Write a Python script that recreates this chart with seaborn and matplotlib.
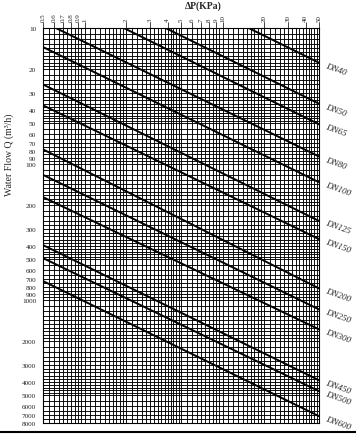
import numpy as np
import pandas as pd
import matplotlib
matplotlib.use("Agg")
import matplotlib.pyplot as plt
import seaborn as sns
from matplotlib.lines import Line2D
from matplotlib.ticker import NullFormatter

# valve sizes, flow read where each line meets dP = 0.5 and dP = 50 kPa
sizes = ["DN40", "DN50", "DN65", "DN80", "DN100", "DN125", "DN150",
         "DN200", "DN250", "DN300", "DN450", "DN500", "DN600"]
dp_ends = [0.5, 50]
q_at_low = [1.8, 3.6, 5.1, 9.0, 13.8, 26, 37, 78, 120, 175, 394, 491, 724]
q_at_high = [18, 36, 51, 88, 136, 262, 356, 820, 1170, 1640, 3880, 4670, 7130]

x_ticks = [0.5, 0.6, 0.7, 0.8, 0.9, 1, 2, 3, 4, 5, 6, 7, 8, 9, 10, 20, 30, 40, 50]
x_labels = ["0.5", "0.6", "0.7", "0.8", "0.9", "1", "2", "3", "4", "5", "6",
            "7", "8", "9", "10", "20", "30", "40", "50"]
y_ticks = [10, 20, 30, 40, 50, 60, 70, 80, 90, 100, 200, 300, 400, 500, 600,
           700, 800, 900, 1000, 2000, 3000, 4000, 5000, 6000, 7000, 8000]

rows = []
for name, lo, hi in zip(sizes, q_at_low, q_at_high):
    rows.append({"dn": name, "dp": dp_ends[0], "q": lo})
    rows.append({"dn": name, "dp": dp_ends[1], "q": hi})
df = pd.DataFrame(rows)

sns.set_style("white")
plt.rcParams["font.family"] = ["Liberation Serif", "DejaVu Serif"]

fig = plt.figure(figsize=(3.56, 4.35), dpi=100)
ax = fig.add_axes([43 / 356, 1 - 424 / 435, 276 / 356, 395 / 435])

# fine nomogram grid
x_minor = np.concatenate([np.arange(0.5, 1, 0.05), np.arange(1, 2, 0.1),
                          np.arange(2, 5, 0.2), np.arange(5, 10, 0.5),
                          np.arange(10, 20, 1), np.arange(20, 50.1, 2)])
y_minor = np.concatenate([np.arange(10, 20, 1), np.arange(20, 50, 2),
                          np.arange(50, 100, 5), np.arange(100, 200, 10),
                          np.arange(200, 500, 20), np.arange(500, 1000, 50),
                          np.arange(1000, 2000, 100), np.arange(2000, 5000, 200),
                          np.arange(5000, 8001, 500)])

sns.lineplot(data=df, x="dp", y="q", units="dn", estimator=None,
             color="black", linewidth=1.4, ax=ax, zorder=5)

ax.set_xscale("log")
ax.set_yscale("log")
ax.set_xlim(0.5, 50)
ax.set_ylim(8000, 10)

ax.set_xticks(x_minor, minor=True)
ax.set_yticks(y_minor, minor=True)
ax.xaxis.set_minor_formatter(NullFormatter())
ax.yaxis.set_minor_formatter(NullFormatter())
ax.set_xticks(x_ticks)
ax.set_xticklabels(x_labels, rotation=90, fontsize=5)
ax.set_yticks(y_ticks)
ax.set_yticklabels([str(v) for v in y_ticks], fontsize=5.2)
ax.xaxis.tick_top()
ax.tick_params(axis="x", which="major", length=4, width=0.6, pad=1, top=True, bottom=False)
ax.tick_params(axis="y", which="major", length=4, width=0.6, pad=1)
ax.tick_params(which="minor", length=0)
ax.grid(True, which="both", color="black", linewidth=0.65)
ax.set_xlabel("")
ax.set_ylabel("")
for s in ax.spines.values():
    s.set_color("black")
    s.set_linewidth(0.8)

for name, hi in zip(sizes, q_at_high):
    ax.annotate(name, xy=(50, hi), xytext=(5, -6), textcoords="offset pixels",
                fontsize=6.5, fontstyle="italic", rotation=-20,
                ha="left", va="center", annotation_clip=False)

fig.text(203 / 356, 1 - 6 / 435, "ΔP(KPa)", fontsize=7, fontweight="bold",
         ha="center", va="center")
fig.text(9 / 356, 1 - 155 / 435, "Water Flow Q (m³/h)", fontsize=7,
         rotation=90, ha="center", va="center")
fig.add_artist(Line2D([0, 1], [1 - 433 / 435] * 2, color="black", linewidth=1.5))

fig.savefig("out.png", dpi=100)
